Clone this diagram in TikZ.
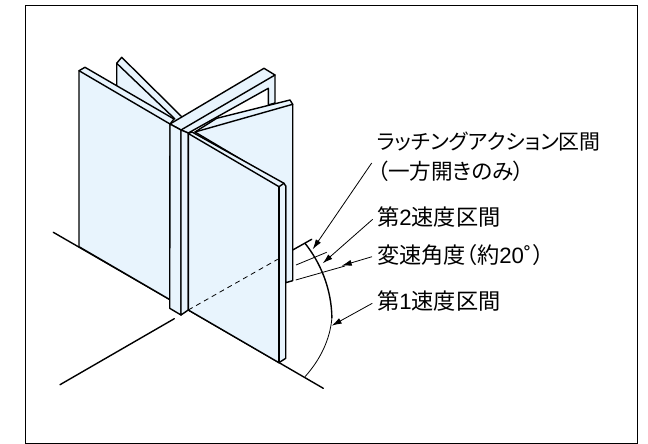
\documentclass[tikz,border=0pt]{standalone}
\usepackage{fontspec}
\newfontfamily\jp[RawFeature={+palt}]{Noto Sans CJK JP}
\newfontfamily\lat{Liberation Sans}
\usetikzlibrary{arrows.meta}
\definecolor{pane}{HTML}{E8F4FD}
\tikzset{
  panel/.style={draw=black,fill=pane,line width=1.4pt,line join=round},
  edge/.style={draw=black,line width=1.4pt,line cap=round},
  thinline/.style={draw=black,line width=0.8pt},
  leader/.style={draw=black,line width=0.8pt,-{Latex[length=10pt,width=6pt]}},
  lab/.style={anchor=base west,inner sep=0pt,font=\jp\fontsize{22.2}{24}\selectfont},
  note/.style={anchor=base west,inner sep=0pt,font=\jp\fontsize{21.6}{24}\selectfont},
  kana/.style={anchor=base west,inner sep=0pt,font=\jp\fontsize{20.9}{24}\selectfont}
}
\begin{document}
\begin{tikzpicture}[x=1pt,y=-1pt]
\useasboundingbox (0,0) rectangle (648,444);
\fill[white] (0,0) rectangle (648,444);
\draw[black,line width=1pt] (25.5,5.5) rectangle (637,443.4);
% floor
\draw[edge] (53.3,232.3) -- (170,299.7);
\draw[edge] (60,384.7) -- (174.3,318.7);
\draw[edge] (188.3,310) -- (323.3,388.3);
% rear-left panel
\path[panel] (116.7,63.3) -- (121.7,57.3) -- (181.7,116.7) -- (175,135) -- (116.7,100) -- cycle;
\draw[edge] (116.7,63.3) -- (175,119);
% frame bar
\path[panel] (170,124) -- (264,68.3) -- (275,75) -- (275,103) -- (268.3,105) -- (268.3,88.3) -- (188.3,133) -- (181,130) -- cycle;
\draw[edge] (181,130) -- (275,75);
% right panel
\path[panel] (216.7,118.3) -- (290,100) -- (292.7,104.3) -- (292.7,280.7) -- (285.7,282.7) -- (285.7,186) -- (195,132) -- cycle;
\draw[edge] (195,132) -- (292.7,104.3);
% left panel
\path[panel] (79,70.7) -- (85,67.3) -- (174,119) -- (170,124) -- (170,299.7) -- (79,246.7) -- cycle;
\draw[edge] (79,70.7) -- (170,124);
% post
\path[panel] (170,124) -- (181,130) -- (181,315) -- (169.7,308.3) -- cycle;
\path[panel] (181,130) -- (188.3,133) -- (188.3,310) -- (181,315) -- cycle;
% front panel
\path[panel] (188.3,133.5) -- (192,132) -- (284,183.3) -- (285.7,186) -- (285.7,358.3) -- (279,362.7) -- (188.3,310) -- cycle;
\draw[edge] (188.3,133.5) -- (279,186.7) -- (284,183.3);
\draw[edge] (279,186.7) -- (279,362.7);
\draw[black,line width=0.8pt,dash pattern=on 5pt off 4pt] (188.3,310) -- (277.7,259.3);
% limits and arc
\draw[edge] (292.7,250) -- (311.7,239.3);
\draw[thinline] (296,265) -- (326.7,252.3);
\draw[thinline] (295.7,280) -- (345,266);
\draw[black,line width=1.4pt] (305,243.3) .. controls (320,262) and (331.5,288) .. (331.9,318);
\draw[thinline] (331.9,318) .. controls (330,340) and (320,360) .. (305,376.7);
% labels
\node[kana] (latch) at (377,149) {ラッチングアクション区間};
\node[note] (oneway) at (377,179) {（一方開きのみ）};
\node[lab] (second) at (377,225) {第{\lat 2}速度区間};
\node[lab] (angle) at (377,263) {変速角度（約{\lat 20˚}\hspace{1.5pt}）};
\node[lab] (first) at (377,309) {第{\lat 1}速度区間};
\coordinate (t1) at (312.7,249.3);
\coordinate (t2) at (322.7,263.3);
\coordinate (t3) at (341.7,265.7);
\coordinate (t4) at (331.7,325.7);
\draw[leader] (371.7,163) -- (t1);
\draw[leader] (372.7,219.3) -- (t2);
\draw[leader] (372,256.7) -- (t3);
\draw[leader] (372.3,303.3) -- (t4);
\end{tikzpicture}
\end{document}
